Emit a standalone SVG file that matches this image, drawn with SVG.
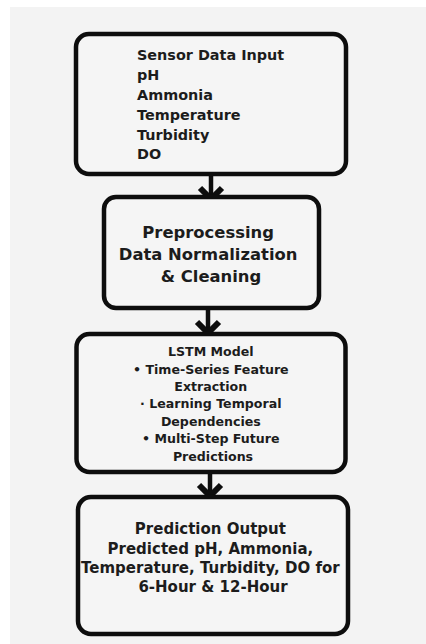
<svg xmlns="http://www.w3.org/2000/svg" width="426" height="644" viewBox="0 0 426 644">
  <style>
    .box { fill: #f5f5f5; stroke: #0d0d0d; stroke-width: 4.5; }
    .t { font-family: "DejaVu Sans", "Liberation Sans", sans-serif; font-weight: 700; fill: #1c1c1c; }
    .c { text-anchor: middle; }
    .shaft { stroke: #0d0d0d; stroke-width: 4.5; fill: none; }
    .head { stroke: #0d0d0d; stroke-width: 6; fill: none; stroke-linejoin: miter; stroke-linecap: butt; }
  </style>
  <!-- page background -->
  <rect x="0" y="0" width="426" height="644" fill="#ffffff"/>
  <rect x="10" y="7" width="416" height="637" fill="#f3f3f3"/>

  <!-- connectors -->
  <g id="connectors">
    <g id="arrow-1">
      <line class="shaft" x1="211" y1="174" x2="211" y2="199"/>
      <polyline class="head" points="200,188 211,199 222,188"/>
    </g>
    <g id="arrow-2">
      <line class="shaft" x1="208" y1="308" x2="208" y2="333"/>
      <polyline class="head" points="197,322 208,333 219,322"/>
    </g>
    <g id="arrow-3">
      <line class="shaft" x1="210" y1="472" x2="210" y2="496"/>
      <polyline class="head" points="199,485 210,496 221,485"/>
    </g>
  </g>

  <g id="sensor-input">
    <rect class="box" x="76" y="34" width="270" height="140" rx="13"/>
    <text class="t" font-size="14.4">
      <tspan x="137" y="60">Sensor Data Input</tspan>
      <tspan x="137" y="80">pH</tspan>
      <tspan x="137" y="100">Ammonia</tspan>
      <tspan x="137" y="120">Temperature</tspan>
      <tspan x="137" y="140">Turbidity</tspan>
      <tspan x="137" y="159">DO</tspan>
    </text>
  </g>

  <g id="preprocessing">
    <rect class="box" x="104" y="197" width="215" height="111" rx="12"/>
    <text class="t c" font-size="16.4">
      <tspan x="211" y="238">Preprocessing</tspan>
      <tspan x="211" y="260">Data Normalization</tspan>
      <tspan x="211" y="282">&amp; Cleaning</tspan>
    </text>
  </g>

  <g id="lstm-model">
    <rect class="box" x="76.5" y="334" width="269" height="138" rx="13"/>
    <text class="t c" font-size="12.6">
      <tspan x="213" y="356">LSTM Model</tspan>
      <tspan x="213" y="373.5">• Time-Series Feature</tspan>
      <tspan x="213" y="391">Extraction</tspan>
      <tspan x="213" y="408">· Learning Temporal</tspan>
      <tspan x="213" y="425.5">Dependencies</tspan>
      <tspan x="213" y="443">• Multi-Step Future</tspan>
      <tspan x="213" y="460.5">Predictions</tspan>
    </text>
  </g>

  <g id="prediction-output">
    <rect class="box" x="78" y="497" width="270" height="137" rx="13"/>
    <text class="t c" font-size="15">
      <tspan x="213" y="534">Prediction Output</tspan>
      <tspan x="213" y="553.5">Predicted pH, Ammonia,</tspan>
      <tspan x="213" y="572.5">Temperature, Turbidity, DO for</tspan>
      <tspan x="213" y="592">6-Hour &amp; 12-Hour</tspan>
    </text>
  </g>
</svg>
